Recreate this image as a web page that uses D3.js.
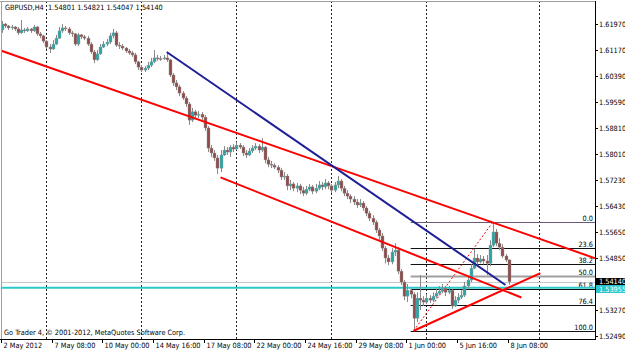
<!DOCTYPE html>
<html>
<head>
<meta charset="utf-8">
<script src="https://cdnjs.cloudflare.com/ajax/libs/d3/7.8.5/d3.min.js"></script>
<style>
  body { margin: 0; background: #fff; }
  svg { display: block; font-family: "DejaVu Sans Condensed", "DejaVu Sans", sans-serif; font-size: 7.3px; }
</style>
</head>
<body>
<svg width="625" height="353"></svg>
<script>
// GBPUSD H4 bars, 2 May 2012 16:00 .. 8 Jun 2012 08:00 (bar index 0..160)
let opens = [
  1.6179,1.6197,1.6191,1.6185,1.6188,1.6182,1.6170,1.6179,1.6176,1.6182,
  1.6176,1.6188,1.6167,1.6161,1.6145,1.6127,1.6121,1.6136,1.6154,1.6176,
  1.6185,1.6182,1.6170,1.6167,1.6136,1.6164,1.6158,1.6154,1.6136,1.6112,
  1.6088,1.6106,1.6127,1.6136,1.6142,1.6161,1.6170,1.6133,1.6130,1.6124,
  1.6115,1.6109,1.6103,1.6082,1.6066,1.6057,1.6063,1.6072,1.6082,1.6094,
  1.6092,1.6091,1.6094,1.6088,1.6042,1.6018,1.6006,1.5987,1.5972,1.5954,
  1.5905,1.5930,1.5920,1.5923,1.5914,1.5881,1.5820,1.5805,1.5790,1.5759,
  1.5799,1.5814,1.5808,1.5823,1.5817,1.5829,1.5823,1.5805,1.5799,1.5811,
  1.5820,1.5826,1.5814,1.5823,1.5784,1.5771,1.5768,1.5762,1.5753,1.5732,
  1.5735,1.5705,1.5711,1.5698,1.5705,1.5692,1.5683,1.5695,1.5702,1.5689,
  1.5698,1.5708,1.5702,1.5714,1.5705,1.5692,1.5708,1.5720,1.5698,1.5683,
  1.5674,1.5665,1.5656,1.5647,1.5653,1.5638,1.5622,1.5607,1.5595,1.5571,
  1.5553,1.5516,1.5486,1.5474,1.5504,1.5510,1.5446,1.5413,1.5370,1.5388,
  1.5376,1.5303,1.5364,1.5358,1.5352,1.5364,1.5358,1.5370,1.5379,1.5385,
  1.5394,1.5382,1.5388,1.5340,1.5358,1.5367,1.5373,1.5401,1.5419,1.5455,
  1.5486,1.5474,1.5483,1.5477,1.5470,1.5525,1.5565,1.5531,1.5519,1.5492,
  1.54801
];
let highs = [
  1.6206,1.6200,1.6194,1.6194,1.6191,1.6188,1.6209,1.6185,1.6188,1.6185,
  1.6194,1.6191,1.6173,1.6164,1.6148,1.6136,1.6148,1.6164,1.6188,1.6197,
  1.6191,1.6188,1.6176,1.6170,1.6170,1.6167,1.6164,1.6161,1.6142,1.6118,
  1.6118,1.6136,1.6145,1.6151,1.6170,1.6182,1.6176,1.6142,1.6136,1.6127,
  1.6121,1.6115,1.6109,1.6085,1.6072,1.6069,1.6082,1.6094,1.6118,1.6103,
  1.6100,1.6103,1.6112,1.6091,1.6048,1.6027,1.6012,1.5993,1.5978,1.5960,
  1.5942,1.5936,1.5933,1.5930,1.5920,1.5887,1.5829,1.5814,1.5799,1.5814,
  1.5826,1.5823,1.5829,1.5832,1.5838,1.5835,1.5829,1.5814,1.5820,1.5829,
  1.5835,1.5832,1.5850,1.5826,1.5793,1.5781,1.5774,1.5768,1.5759,1.5747,
  1.5741,1.5723,1.5717,1.5714,1.5711,1.5702,1.5705,1.5711,1.5708,1.5711,
  1.5720,1.5717,1.5726,1.5720,1.5711,1.5717,1.5735,1.5726,1.5705,1.5692,
  1.5680,1.5674,1.5665,1.5665,1.5659,1.5644,1.5629,1.5616,1.5601,1.5577,
  1.5562,1.5522,1.5495,1.5516,1.5531,1.5519,1.5452,1.5419,1.5407,1.5394,
  1.5382,1.5382,1.5434,1.5370,1.5376,1.5373,1.5382,1.5394,1.5401,1.5407,
  1.5401,1.5401,1.5391,1.5370,1.5379,1.5388,1.5413,1.5431,1.5467,1.5513,
  1.5498,1.5495,1.5492,1.5495,1.5540,1.5595,1.5574,1.5546,1.5528,1.5498,
  1.54821
];
let lows = [
  1.6170,1.6185,1.6179,1.6179,1.6176,1.6164,1.6167,1.6170,1.6173,1.6170,
  1.6173,1.6161,1.6154,1.6139,1.6121,1.6109,1.6118,1.6133,1.6151,1.6170,
  1.6176,1.6164,1.6158,1.6130,1.6130,1.6151,1.6148,1.6130,1.6106,1.6078,
  1.6085,1.6103,1.6124,1.6130,1.6136,1.6154,1.6127,1.6121,1.6118,1.6109,
  1.6103,1.6097,1.6075,1.6057,1.6051,1.6051,1.6057,1.6066,1.6078,1.6085,
  1.6085,1.6088,1.6082,1.6036,1.6009,1.5996,1.5978,1.5966,1.5945,1.5890,
  1.5899,1.5911,1.5911,1.5905,1.5872,1.5808,1.5793,1.5781,1.5741,1.5747,
  1.5796,1.5799,1.5793,1.5808,1.5814,1.5817,1.5796,1.5790,1.5796,1.5805,
  1.5814,1.5805,1.5808,1.5774,1.5762,1.5759,1.5756,1.5744,1.5723,1.5723,
  1.5692,1.5692,1.5689,1.5686,1.5680,1.5674,1.5677,1.5689,1.5680,1.5683,
  1.5692,1.5692,1.5695,1.5695,1.5683,1.5686,1.5698,1.5689,1.5674,1.5665,
  1.5653,1.5647,1.5638,1.5641,1.5629,1.5613,1.5598,1.5586,1.5562,1.5540,
  1.5507,1.5470,1.5464,1.5467,1.5492,1.5437,1.5404,1.5358,1.5352,1.5364,
  1.5265,1.5291,1.5328,1.5340,1.5346,1.5349,1.5352,1.5364,1.5373,1.5379,
  1.5370,1.5376,1.5331,1.5337,1.5349,1.5361,1.5367,1.5394,1.5413,1.5452,
  1.5464,1.5470,1.5467,1.5434,1.5461,1.5519,1.5522,1.5510,1.5486,1.5474,
  1.54047
];
let closes = [
  1.6197,1.6191,1.6185,1.6188,1.6182,1.6170,1.6179,1.6176,1.6182,1.6176,
  1.6188,1.6167,1.6161,1.6145,1.6127,1.6121,1.6136,1.6154,1.6176,1.6185,
  1.6182,1.6170,1.6167,1.6136,1.6164,1.6158,1.6154,1.6136,1.6112,1.6088,
  1.6106,1.6127,1.6136,1.6142,1.6161,1.6170,1.6133,1.6130,1.6124,1.6115,
  1.6109,1.6103,1.6082,1.6066,1.6057,1.6063,1.6072,1.6082,1.6094,1.6092,
  1.6091,1.6094,1.6088,1.6042,1.6018,1.6006,1.5987,1.5972,1.5954,1.5905,
  1.5930,1.5920,1.5923,1.5914,1.5881,1.5820,1.5805,1.5790,1.5759,1.5799,
  1.5814,1.5808,1.5823,1.5817,1.5829,1.5823,1.5805,1.5799,1.5811,1.5820,
  1.5826,1.5814,1.5823,1.5784,1.5771,1.5768,1.5762,1.5753,1.5732,1.5735,
  1.5705,1.5711,1.5698,1.5705,1.5692,1.5683,1.5695,1.5702,1.5689,1.5698,
  1.5708,1.5702,1.5714,1.5705,1.5692,1.5708,1.5720,1.5698,1.5683,1.5674,
  1.5665,1.5656,1.5647,1.5653,1.5638,1.5622,1.5607,1.5595,1.5571,1.5553,
  1.5516,1.5486,1.5474,1.5504,1.5510,1.5446,1.5413,1.5370,1.5388,1.5376,
  1.5303,1.5364,1.5358,1.5352,1.5364,1.5358,1.5370,1.5379,1.5385,1.5394,
  1.5382,1.5388,1.5340,1.5358,1.5367,1.5373,1.5401,1.5419,1.5455,1.5486,
  1.5474,1.5483,1.5477,1.5470,1.5525,1.5565,1.5531,1.5519,1.5492,1.5480,
  1.5414
];

// time labels every 16 bars
let timeLabels = ["2 May 2012", "7 May 08:00", "10 May 00:00", "14 May 16:00", "17 May 08:00",
  "22 May 00:00", "24 May 16:00", "29 May 08:00", "1 Jun 00:00", "5 Jun 16:00", "8 Jun 08:00"];
let priceTicks = [1.61970, 1.61170, 1.60390, 1.59590, 1.58810, 1.58010, 1.57230,
  1.56430, 1.55650, 1.54850, 1.53270, 1.52490];
let weekSeparators = [14, 44, 74, 104, 134, 169.5]; // bar positions
let bidPrice = 1.54140;
let hLinePrice = 1.53955;

// trend lines: [bar, price] anchors
let upperChannel = [[0, 1.6115], [160, 1.5577]];
let lowerChannel = [[69, 1.5731], [164, 1.5366]];
let supportLine = [[130, 1.5265], [170, 1.5440]];
let blueLine = [[52, 1.6112], [159, 1.5404]];

// fibonacci retracement, low of 1 Jun to high of 7 Jun
let fibLow = [130, 1.5265];
let fibHigh = [155, 1.5595];
let fibLevels = [0, 23.6, 38.2, 50, 61.8, 76.4, 100];

let bars = closes.map((c, i) => ({ i: i, o: opens[i], h: highs[i], l: lows[i], c: c }));

let W = 625, H = 353;
let plotRight = 595, plotBottom = 339;

let x = d3.scaleLinear().domain([0, 160]).range([2, 508.7]);
let y = d3.scaleLinear().domain([1.5249, 1.6197]).range([336, 24]);

let svg = d3.select("svg");

svg.append("clipPath").attr("id", "plot")
  .append("rect").attr("x", 1).attr("y", 1).attr("width", plotRight - 1).attr("height", plotBottom - 1);

let plot = svg.append("g").attr("clip-path", "url(#plot)");

// weekly separators
plot.selectAll(".sep").data(weekSeparators).enter().append("line")
  .attr("x1", (d) => Math.round(x(d)) + 0.5).attr("x2", (d) => Math.round(x(d)) + 0.5)
  .attr("y1", 1).attr("y2", plotBottom)
  .attr("stroke", "#222").attr("stroke-dasharray", "2,2");

// bid line
plot.append("line").attr("x1", 0).attr("x2", plotRight)
  .attr("y1", Math.round(y(bidPrice)) + 0.5).attr("y2", Math.round(y(bidPrice)) + 0.5)
  .attr("stroke", "#c8c8c8");

// fibonacci levels
let fibRange = fibHigh[1] - fibLow[1];
let fibY = (lv) => Math.round(y(fibHigh[1] - lv / 100 * fibRange)) + 0.5;
plot.selectAll(".fib").data(fibLevels).enter().append("line")
  .attr("x1", x(fibLow[0]) - 3).attr("x2", plotRight)
  .attr("y1", fibY).attr("y2", fibY)
  .attr("stroke", (d) => d == 50 ? "#a0a0a0" : d == 0 ? "#6a5a7a" : "#111")
  .attr("stroke-width", (d) => d == 50 ? 2 : 1);
plot.selectAll(".fibt").data(fibLevels).enter().append("text")
  .attr("x", plotRight - 2).attr("y", (d) => fibY(d) - 2)
  .attr("text-anchor", "end").attr("fill", "#000")
  .text((d) => d.toFixed(1));
plot.append("line")
  .attr("x1", x(fibLow[0])).attr("y1", y(fibLow[1]))
  .attr("x2", x(fibHigh[0])).attr("y2", y(fibHigh[1]))
  .attr("stroke", "#ff0000").attr("stroke-dasharray", "2,2");

// horizontal line
plot.append("line").attr("x1", 0).attr("x2", plotRight)
  .attr("y1", y(hLinePrice)).attr("y2", y(hLinePrice))
  .attr("stroke", "#2cc8cc").attr("stroke-width", 2);

// candles
let candle = plot.selectAll(".bar").data(bars).enter().append("g");
candle.append("line")
  .attr("x1", (d) => Math.round(x(d.i)) + 0.5).attr("x2", (d) => Math.round(x(d.i)) + 0.5)
  .attr("y1", (d) => y(d.h)).attr("y2", (d) => y(d.l))
  .attr("stroke", "#8a8a8a");
candle.append("rect")
  .attr("x", (d) => Math.round(x(d.i)) - 1)
  .attr("width", 3)
  .attr("y", (d) => y(Math.max(d.o, d.c)))
  .attr("height", (d) => Math.max(1, Math.abs(y(d.o) - y(d.c))))
  .attr("fill", (d) => d.c >= d.o ? "#2aa5a5" : "#8e4b4b")
  .attr("stroke", "#9a9a9a").attr("stroke-width", 0.4);

// trend lines
let extend = (pts, x0, x1) => {
  let k = (pts[1][1] - pts[0][1]) / (pts[1][0] - pts[0][0]);
  return [[x0, pts[0][1] + k * (x0 - pts[0][0])], [x1, pts[0][1] + k * (x1 - pts[0][0])]];
};
let drawLine = (pts, color) => {
  plot.append("line")
    .attr("x1", x(pts[0][0])).attr("y1", y(pts[0][1]))
    .attr("x2", x(pts[1][0])).attr("y2", y(pts[1][1]))
    .attr("stroke", color).attr("stroke-width", 2);
};
drawLine(extend(upperChannel, x.invert(0), x.invert(plotRight)), "#ff0000");
drawLine(lowerChannel, "#ff0000");
drawLine(supportLine, "#ff0000");
drawLine(blueLine, "#1e1e96");

// frame
svg.append("line").attr("x1", 0).attr("x2", plotRight).attr("y1", 1.5).attr("y2", 1.5).attr("stroke", "#a0a0a0");
svg.append("line").attr("x1", 1.5).attr("x2", 1.5).attr("y1", 1).attr("y2", plotBottom).attr("stroke", "#a0a0a0");
svg.append("line").attr("x1", plotRight + 0.5).attr("x2", plotRight + 0.5).attr("y1", 1).attr("y2", plotBottom + 1).attr("stroke", "#000");
svg.append("line").attr("x1", 0).attr("x2", plotRight + 1).attr("y1", plotBottom + 0.5).attr("y2", plotBottom + 0.5).attr("stroke", "#000");

// price axis
let pt = svg.selectAll(".pt").data(priceTicks).enter().append("g")
  .attr("transform", (d) => `translate(0,${Math.round(y(d)) + 0.5})`);
pt.append("line").attr("x1", plotRight).attr("x2", plotRight + 3).attr("stroke", "#000");
pt.append("text").attr("x", plotRight + 4).attr("y", 2.5).attr("fill", "#000")
  .text((d) => d.toFixed(5));

// price marker boxes (bid on top, line label just below)
let marker = (p, bg, top, h) => {
  svg.append("rect").attr("x", plotRight + 1).attr("y", top).attr("width", W - plotRight).attr("height", h).attr("fill", bg);
  svg.append("text").attr("x", plotRight + 4).attr("y", top + h - 1).attr("fill", "#fff").text(p.toFixed(5));
};
marker(bidPrice, "#000", Math.round(y(bidPrice)) - 4, 7);
marker(hLinePrice, "#2cc8cc", Math.round(y(bidPrice)) + 3, 8);

// time axis
let tt = svg.selectAll(".tt").data(timeLabels).enter().append("g")
  .attr("transform", (d, i) => `translate(${Math.round(x(i * 16)) - 0.5},0)`);
tt.append("line").attr("y1", plotBottom).attr("y2", plotBottom + 4).attr("stroke", "#000");
tt.append("text").attr("x", 2).attr("y", 348).attr("fill", "#000").text((d) => d);

// texts
svg.append("text").attr("x", 5).attr("y", 10).attr("fill", "#000")
  .attr("xml:space", "preserve").style("white-space", "pre")
  .text(`GBPUSD,H4  ${opens[160].toFixed(5)} ${highs[160].toFixed(5)} ${lows[160].toFixed(5)} ${closes[160].toFixed(5)}`);
svg.append("text").attr("x", 4).attr("y", 335).attr("fill", "#000")
  .text("Go Trader 4, \u00a9 2001-2012, MetaQuotes Software Corp.");
</script>
</body>
</html>
